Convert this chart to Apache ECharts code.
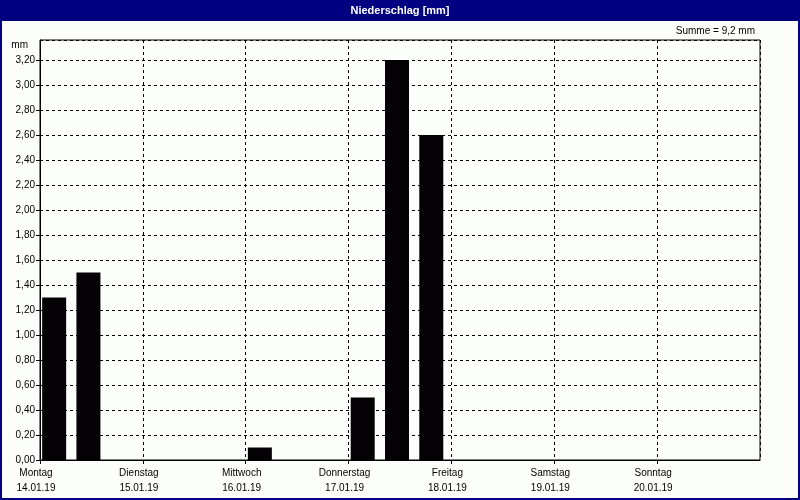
<!DOCTYPE html>
<html><head><meta charset="utf-8">
<script src="https://cdn.jsdelivr.net/npm/echarts@6/dist/echarts.min.js"></script>
<style>html,body{margin:0;padding:0;background:#fcfefc}#c{width:800px;height:500px}</style>
</head><body><div id="c"></div>
<script>
const days = ['Montag','Dienstag','Mittwoch','Donnerstag','Freitag','Samstag','Sonntag'];
const dates = ['14.01.19','15.01.19','16.01.19','17.01.19','18.01.19','19.01.19','20.01.19'];
const hours = ['00','08','16'];
// precipitation per 8-hour slot (mm)
const precip = [1.3, 1.5, 0,   0, 0, 0,   0.1, 0, 0,   0.5, 3.2, 2.6,   0, 0, 0,   0, 0, 0,   0, 0, 0];
const yMax = 3.36, yStep = 0.2;
const summe = '9,2';

const slots = [];
dates.forEach(d => hours.forEach(h => slots.push(d + ' ' + h + 'h')));

const font = 'Liberation Sans, Arial, sans-serif';
const chart = echarts.init(document.getElementById('c'));
chart.setOption({
  backgroundColor: '#fcfefc',
  animation: false,
  title: {
    text: 'Niederschlag [mm]', left: 'center', top: 0,
    textStyle: {color: '#ffffff', fontSize: 11, fontWeight: 'bold', fontFamily: font}
  },
  graphic: [
    {type: 'rect', z: -1, shape: {x: 0, y: 0, width: 800, height: 21}, style: {fill: '#000080'}},
    {type: 'rect', z: 100, shape: {x: 1, y: 1, width: 798, height: 498}, style: {fill: null, stroke: '#000080', lineWidth: 2}},
    {type: 'text', right: 45, top: 26, style: {text: 'Summe = ' + summe + ' mm', font: '10px ' + font, fill: '#000'}}
  ],
  grid: [
    {left: 40, right: 40, top: 40, bottom: 40, show: true, borderColor: '#000', borderWidth: 1, backgroundColor: 'transparent'},
    {left: 37, right: 43, top: 40, bottom: 40}
  ],
  xAxis: [
    {
      type: 'value', gridIndex: 0, min: 0, max: 7, interval: 1,
      axisLine: {lineStyle: {color: '#000'}},
      axisTick: {show: true, length: 4, lineStyle: {color: '#000'}},
      splitLine: {show: true, lineStyle: {color: '#000', type: [3, 3]}},
      axisLabel: {
        margin: 6, color: '#000', fontSize: 10, fontFamily: font, lineHeight: 15,
        padding: [0, 8, 0, 0], showMaxLabel: false,
        formatter: v => (v < 7 ? days[v] + '\n' + dates[v] : '')
      }
    },
    {
      type: 'category', gridIndex: 1, data: slots,
      show: false
    }
  ],
  yAxis: [
    {
      type: 'value', gridIndex: 0, min: 0, max: yMax, interval: yStep,
      name: 'mm', nameLocation: 'end', nameGap: -5,
      nameTextStyle: {align: 'right', verticalAlign: 'middle', padding: [0, 12, 0, 0], color: '#000', fontSize: 10, fontFamily: font},
      axisLine: {show: true, lineStyle: {color: '#000'}},
      axisTick: {show: true, length: 4, lineStyle: {color: '#000'}},
      splitLine: {show: true, lineStyle: {color: '#000', type: [3, 3]}},
      axisLabel: {
        margin: 5, color: '#000', fontSize: 10, fontFamily: font, showMaxLabel: false,
        formatter: v => (v > yMax - 0.01 ? '' : v.toFixed(2).replace('.', ','))
      }
    },
    {type: 'value', gridIndex: 1, min: 0, max: yMax, show: false}
  ],
  series: [{
    type: 'bar', xAxisIndex: 1, yAxisIndex: 1, data: precip,
    barWidth: 24, itemStyle: {color: '#040204'}
  }]
});
</script></body></html>
